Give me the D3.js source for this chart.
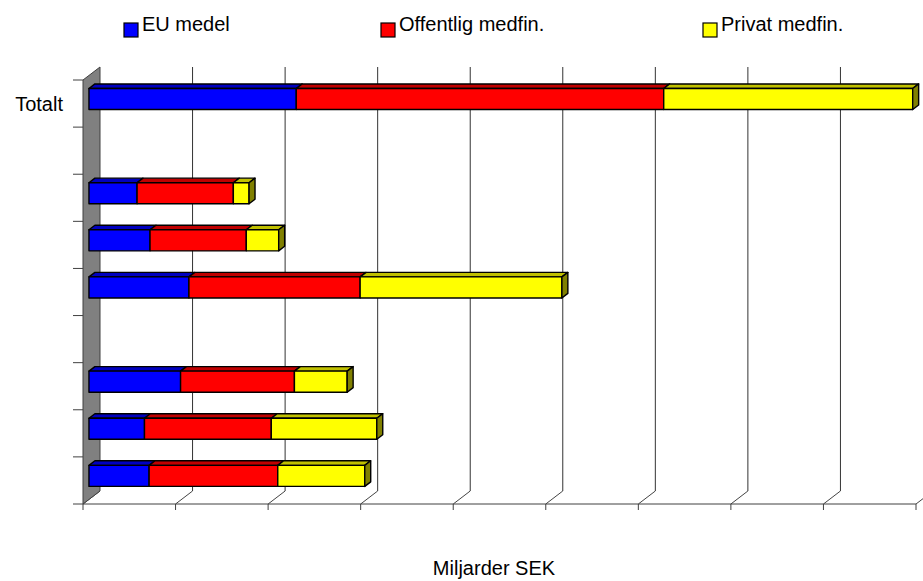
<!DOCTYPE html>
<html>
<head>
<meta charset="utf-8">
<script src="https://cdn.jsdelivr.net/npm/d3@7"></script>
<style>
  html, body { margin: 0; padding: 0; background: #fff; }
  svg { display: block; font-family: "Liberation Sans", Arial, sans-serif; }
</style>
</head>
<body>
<svg id="chart" width="923" height="581"></svg>
<script>
// Category labels (only the total row carries a visible name)
const categories = ["Totalt", "", "", "", "", "", "", "", ""];

// Financing per row, miljarder SEK (null = no bar in that row)
const euMedel         = [2.24, null, 0.52, 0.66, 1.08, null, 0.99, 0.60, 0.65];
const offentligMedfin = [3.97, null, 1.04, 1.04, 1.85, null, 1.23, 1.37, 1.39];
const privatMedfin    = [2.69, null, 0.17, 0.35, 2.18, null, 0.57, 1.14, 0.94];

const seriesNames = ["EU medel", "Offentlig medfin.", "Privat medfin."];
const xTicks = [0, 1, 2, 3, 4, 5, 6, 7, 8, 9];
const axisTitle = "Miljarder SEK";

const palette = [
  { front: "#0000ff", top: "#0000c0", side: "#000080" },
  { front: "#ff0000", top: "#c00000", side: "#800000" },
  { front: "#ffff00", top: "#c0c000", side: "#808000" }
];

(function draw() {
  const svg = d3.select("#chart");

  // Plot frame (front plane) and depth offset of the 3D box
  const pLeft = 83, pRight = 916, pTop = 80, pBottom = 504;
  const DX = 17, DY = -13;               // full depth of the box
  const barZ0 = 0.35, barZ1 = 0.70;      // bar depth within the box

  const x = d3.scaleLinear().domain([0, 9]).range([pLeft, pRight]);
  const pad = 0.553;
  const y = d3.scaleBand()
    .domain(d3.range(categories.length))
    .range([pTop, pBottom])
    .paddingInner(pad)
    .paddingOuter(pad / 2);

  const proj = (px, py, z) => [px + z * DX, py + z * DY];
  const poly = pts => "M" + pts.map(p => p.join(",")).join("L") + "Z";

  // Back gridlines with their floor diagonals
  const grid = svg.append("g").attr("stroke-width", 1).attr("fill", "none");
  xTicks.forEach(t => {
    const fx = x(t);
    const [bx, by] = proj(fx, pBottom, 1);
    const [, ty] = proj(fx, pTop, 1);
    grid.append("path").attr("d", `M${fx},${pBottom}L${bx},${by}`).attr("stroke", "#444");
    if (t > 0) grid.append("line").attr("x1", bx).attr("x2", bx).attr("y1", by).attr("y2", ty).attr("stroke", "#333");
  });

  // Left wall
  const w0 = proj(pLeft, pTop, 0), w1 = proj(pLeft, pTop, 1), w2 = proj(pLeft, pBottom, 1), w3 = proj(pLeft, pBottom, 0);
  svg.append("path").attr("d", poly([w0, w1, w2, w3]))
    .attr("fill", "#808080").attr("stroke", "#404040").attr("stroke-width", 1);

  // Front x axis line and ticks
  const axisG = svg.append("g").attr("stroke", "#404040").attr("stroke-width", 1);
  axisG.append("line").attr("x1", pLeft).attr("x2", pRight).attr("y1", pBottom).attr("y2", pBottom);
  xTicks.forEach(t => {
    axisG.append("line").attr("x1", x(t)).attr("x2", x(t)).attr("y1", pBottom).attr("y2", pBottom + 6);
  });

  // Category ticks on the left edge
  d3.range(categories.length + 1).map(i => pTop + i * y.step()).forEach(cy => {
    axisG.append("line").attr("x1", pLeft - 10).attr("x2", pLeft).attr("y1", cy).attr("y2", cy);
  });

  // Category labels
  svg.append("g").selectAll("text")
    .data(categories.map((c, i) => ({ c, i })).filter(d => d.c))
    .join("text")
    .attr("x", 63)
    .attr("y", d => y(d.i) + y.bandwidth() / 2 + 7)
    .attr("text-anchor", "end")
    .attr("font-size", 20)
    .attr("fill", "#000")
    .text(d => d.c);

  // Stacked 3D bars
  const rows = categories.map((c, i) => [euMedel[i], offentligMedfin[i], privatMedfin[i]]);
  const barsG = svg.append("g")
    .attr("stroke", "#000").attr("stroke-width", 1.4).attr("stroke-linejoin", "round");

  rows.forEach((vals, i) => {
    if (vals.some(v => v == null)) return;
    const y0 = y(i), y1 = y(i) + y.bandwidth();
    let acc = 0;
    const segs = vals.map((v, s) => { const a = acc; acc += v; return { a, b: acc, s }; });
    segs.forEach(({ a, b, s }) => {
      const xa = x(a), xb = x(b);
      // top face
      barsG.append("path")
        .attr("d", poly([proj(xa, y0, barZ0), proj(xb, y0, barZ0), proj(xb, y0, barZ1), proj(xa, y0, barZ1)]))
        .attr("fill", palette[s].top);
      // front face
      const p0 = proj(xa, y0, barZ0), p1 = proj(xb, y1, barZ0);
      barsG.append("rect")
        .attr("x", p0[0]).attr("y", p0[1])
        .attr("width", p1[0] - p0[0]).attr("height", p1[1] - p0[1])
        .attr("fill", palette[s].front);
    });
    // right end face of the stack
    const last = segs[segs.length - 1];
    const xe = x(last.b);
    barsG.append("path")
      .attr("d", poly([proj(xe, y0, barZ0), proj(xe, y0, barZ1), proj(xe, y1, barZ1), proj(xe, y1, barZ0)]))
      .attr("fill", palette[last.s].side);
  });

  // Legend
  const legendX = [124, 381, 703];
  const legend = svg.append("g");
  seriesNames.forEach((name, s) => {
    legend.append("rect")
      .attr("x", legendX[s]).attr("y", 23).attr("width", 14).attr("height", 14)
      .attr("fill", palette[s].front).attr("stroke", "#000").attr("stroke-width", 1.2);
    legend.append("text")
      .attr("x", legendX[s] + 18).attr("y", 31)
      .attr("font-size", 20).attr("fill", "#000")
      .text(name);
  });

  // Axis title
  svg.append("text")
    .attr("x", 494).attr("y", 575)
    .attr("text-anchor", "middle")
    .attr("font-size", 20).attr("fill", "#000")
    .text(axisTitle);
})();
</script>
</body>
</html>
